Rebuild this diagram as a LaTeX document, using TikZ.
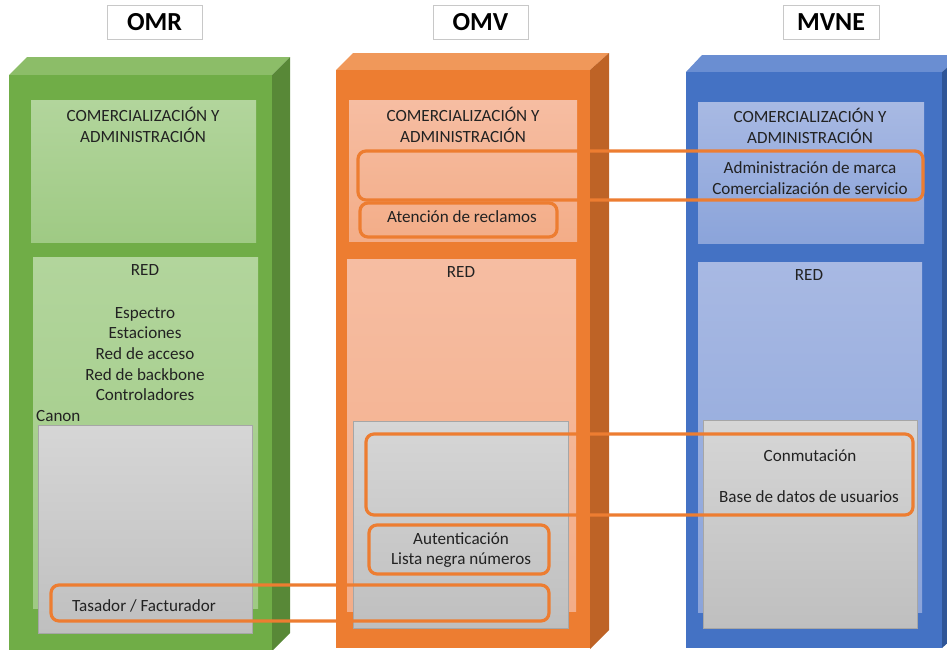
\documentclass[tikz,border=0pt]{standalone}
\usepackage{fontspec}
\setmainfont{Carlito}
\definecolor{txtc}{HTML}{222222}
\definecolor{hdrb}{HTML}{C8C8C8}
\definecolor{ringc}{HTML}{ED7D31}
\definecolor{grayb}{HTML}{A6A6A6}
\definecolor{grayt}{HTML}{D6D6D6}
\definecolor{graybot}{HTML}{BFBFBF}
\definecolor{gfront}{HTML}{70AD47}
\definecolor{gtop}{HTML}{8CBD68}
\definecolor{gside}{HTML}{588837}
\definecolor{gin1}{HTML}{B2D59C}
\definecolor{gin2}{HTML}{9FCA84}
\definecolor{ofront}{HTML}{ED7D31}
\definecolor{otop}{HTML}{F0985A}
\definecolor{oside}{HTML}{BE6326}
\definecolor{oin1}{HTML}{F6BDA2}
\definecolor{oin2}{HTML}{F3AD88}
\definecolor{bfront}{HTML}{4472C4}
\definecolor{btop}{HTML}{6A8ED2}
\definecolor{bside}{HTML}{2F5597}
\definecolor{bin1}{HTML}{A8B9E3}
\definecolor{bin2}{HTML}{8BA4DA}
\begin{document}
\begin{tikzpicture}[x=1pt,y=-1pt,
  txt/.style={font=\fontsize{17.1}{20.6}\selectfont, text=txtc, align=center, inner sep=0pt},
  hdr/.style={draw=hdrb, line width=1pt, fill=white, text=black, font=\fontsize{26}{30}\selectfont\bfseries, minimum width=95pt, minimum height=34pt, inner sep=0pt},
  ring/.style={draw=ringc, line width=3.2pt, rounded corners=8pt},
  graybox/.style={draw=grayb, line width=0.8pt, top color=grayt, bottom color=graybot},
  gin/.style={top color=gin1, bottom color=gin2},
  oin/.style={top color=oin1, bottom color=oin2},
  bin/.style={top color=bin1, bottom color=bin2}
]
\useasboundingbox (0,0) rectangle (947,649);
\clip (0,0) rectangle (947,649);

% headers
\node[hdr] (hOMR) at (154.5,22) {OMR};
\node[hdr] (hOMV) at (480.5,22) {OMV};
\node[hdr, minimum width=96pt] (hMVNE) at (831,22) {MVNE};

% ---------- OMR (green) ----------
\fill[gtop] (9,75) -- (27,57) -- (290,57) -- (272,75) -- cycle;
\fill[gside] (272,75) -- (290,57) -- (290,633) -- (272,651) -- cycle;
\fill[gfront] (9,75) rectangle (272,651);
\shade[gin] (31,100) rectangle (256,242);
\node[txt] (gcom) at (143,125) {COMERCIALIZACIÓN Y\\ADMINISTRACIÓN};
\shade[gin] (33,257) rectangle (258,608);
\node[txt] (gred) at (145,270) {RED};
\node[txt] (glist) at (145,354) {Espectro\\Estaciones\\Red de acceso\\Red de backbone\\Controladores};
\node[txt, anchor=west] (gcanon) at (36,416) {Canon};
\filldraw[graybox] (38,425) rectangle (252,633);
\node[txt, anchor=west] (gtas) at (72,606) {Tasador / Facturador};

% ---------- OMV (orange) ----------
\fill[otop] (336,70) -- (353,53) -- (609,53) -- (590,70) -- cycle;
\fill[oside] (590,70) -- (609,53) -- (609,630) -- (590,649) -- cycle;
\fill[ofront] (336,70) rectangle (590,648);
\shade[oin] (349,100) rectangle (577,241);
\node[txt] (ocom) at (463,125) {COMERCIALIZACIÓN Y\\ADMINISTRACIÓN};
\node[txt] (oaten) at (462,217) {Atención de reclamos};
\shade[oin] (347,259) rectangle (576,611);
\node[txt] (ored) at (461,272) {RED};
\filldraw[graybox] (353,421) rectangle (568,628);
\node[txt] (oaut) at (461,550) {Autenticación\\Lista negra números};

% ---------- MVNE (blue) ----------
\fill[btop] (686,72) -- (702,55) -- (962,55) -- (942,72) -- cycle;
\fill[bside] (942,72) -- (962,55) -- (962,630) -- (942,648) -- cycle;
\fill[bfront] (686,72) rectangle (942,648);
\shade[bin] (698,102) rectangle (924,243);
\node[txt] (bcom) at (810,126) {COMERCIALIZACIÓN Y\\ADMINISTRACIÓN};
\node[txt] (badm) at (810,178) {Administración de marca\\Comercialización de servicio};
\shade[bin] (698,262) rectangle (922,612);
\node[txt] (bred) at (809,275) {RED};
\filldraw[graybox] (703,420) rectangle (917,628);
\node[txt] (bcon) at (810,456) {Conmutación};
\node[txt] (bbase) at (809,497) {Base de datos de usuarios};

% ---------- orange outlines ----------
\draw[ring] (360,203) rectangle (557,237);
\draw[ring] (369,525) rectangle (549,574);
\draw[ring] (358,151) rectangle (923,200);
\draw[ring] (366,434) rectangle (913,515);
\draw[ring] (51,585) rectangle (549,621);
\end{tikzpicture}
\end{document}
